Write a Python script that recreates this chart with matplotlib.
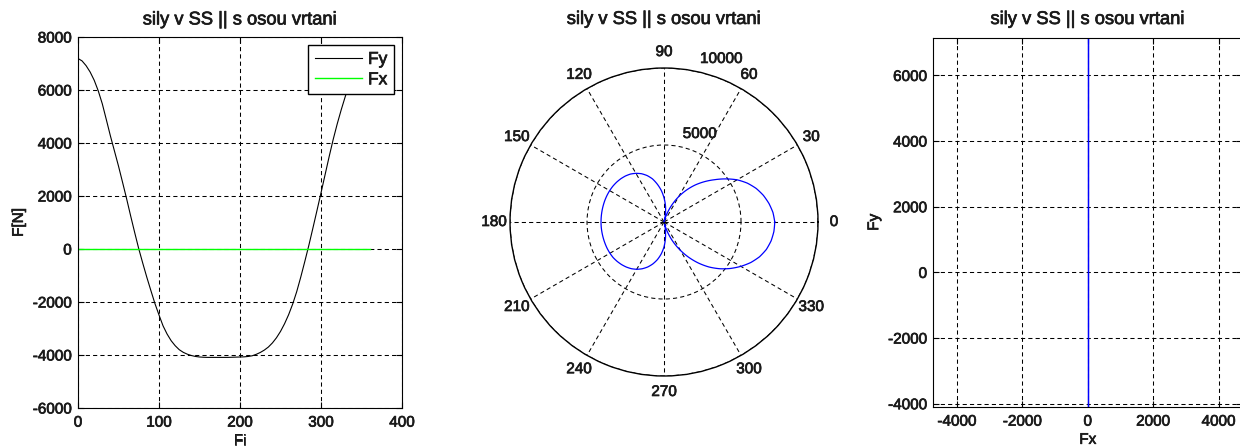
import numpy as np
import matplotlib
matplotlib.use("Agg")
import matplotlib.pyplot as plt
import matplotlib.patheffects as pe
from matplotlib.text import Text

plt.rcParams["font.family"] = ["Liberation Sans", "DejaVu Sans"]
plt.rcParams["font.size"] = 11
plt.rcParams["axes.unicode_minus"] = False

# crank angle [deg]
Fi = [0, 5, 10, 15, 20, 25, 30, 35, 40, 45, 50, 55, 60, 65, 70, 75, 80, 85,
      90, 95, 100, 105, 110, 115, 120, 125, 130, 135, 140, 145, 150, 155, 160,
      165, 170, 175, 180, 185, 190, 195, 200, 205, 210, 215, 220, 225, 230,
      235, 240, 245, 250, 255, 260, 265, 270, 275, 280, 285, 290, 295, 300,
      305, 310, 315, 320, 325, 330, 335, 340, 345, 350, 355, 360]

# force perpendicular to the bore axis [N]
Fy = [7190, 7100, 6920, 6680, 6370, 5970, 5480, 4880, 4270, 3700, 3130, 2520,
      1900, 1250, 620, 10, -540, -1070, -1570, -2060, -2490, -2900, -3210,
      -3460, -3650, -3800, -3900, -3970, -4020, -4055, -4075, -4085, -4090,
      -4090, -4090, -4090, -4090, -4090, -4085, -4080, -4075, -4070, -4055,
      -4030, -3975, -3905, -3815, -3700, -3545, -3350, -3110, -2820, -2480,
      -2080, -1610, -1060, -470, 140, 790, 1450, 2120, 2800, 3480, 4130, 4720,
      5260, 5760, 6220, 6600, 6880, 7060, 7160, 7190]

# force along the bore axis [N]
Fx = [0, 0, 0, 0, 0, 0, 0, 0, 0, 0, 0, 0, 0, 0, 0, 0, 0, 0, 0, 0, 0, 0, 0, 0,
      0, 0, 0, 0, 0, 0, 0, 0, 0, 0, 0, 0, 0, 0, 0, 0, 0, 0, 0, 0, 0, 0, 0, 0,
      0, 0, 0, 0, 0, 0, 0, 0, 0, 0, 0, 0, 0, 0, 0, 0, 0, 0, 0, 0, 0, 0, 0, 0,
      0]

title = "sily v SS || s osou vrtani"
grid_kw = dict(color="k", linestyle=(0, (4, 3)), linewidth=0.75)
tick_kw = dict(direction="in", length=4, width=0.8, top=True, right=True)

fig = plt.figure(figsize=(12.4, 4.48), dpi=100)

# forces against crank angle
ax1 = fig.add_axes([0.0629, 0.0893, 0.2613, 0.828])
ax1.plot(Fi, Fy, color="k", lw=0.8, label="Fy")
ax1.plot(Fi, Fx, color="#00ff00", lw=1.0, label="Fx")
ax1.set_xlim(0, 400)
ax1.set_ylim(-6000, 8000)
ax1.set_xticks(range(0, 401, 100))
ax1.set_yticks(range(-6000, 8001, 2000))
ax1.grid(True, **grid_kw)
ax1.tick_params(**tick_kw)
ax1.tick_params(axis="y", pad=4.5)
ax1.tick_params(axis="x", pad=5.5)
ax1.set_xlabel("Fi", labelpad=3)
ax1.set_ylabel("F[N]", labelpad=5)
ax1.set_title(title, y=1.034, pad=0)
leg = ax1.legend(loc="upper right", fontsize=12.5, fancybox=False,
                 edgecolor="k", framealpha=1, handlelength=2.7,
                 handletextpad=0.35, labelspacing=0.3, borderaxespad=0.45)
leg.get_frame().set_linewidth(1.0)

# magnitude of the force in polar form
ax2 = fig.add_axes([0.4113, 0.1607, 0.2484, 0.6875], projection="polar")
line, = ax2.plot(np.deg2rad(Fi), np.abs(Fy), color="#0000ff", lw=0.9)
line.get_path()._interpolation_steps = 8  # draw segments as arcs, not chords
ax2.set_ylim(0, 10000)
angles = list(range(0, 360, 30))
ax2.set_thetagrids(angles, labels=[str(a) for a in angles])
rings = [5000, 10000]
ax2.set_rgrids(rings, labels=["", ""])
ax2.grid(True, **grid_kw)
ax2.tick_params(axis="x", pad=4.5, length=0)
ax2.spines["polar"].set_linewidth(1.0)
for r in rings:
    ax2.text(np.deg2rad(77), r + 400, str(r), ha="left", va="bottom")
ax2.set_title(title, y=1.143, pad=0)

# Fy against Fx
ax3 = fig.add_axes([0.7527, 0.0915, 0.2490, 0.8244])
ax3.plot(Fx, Fy, color="#0000ff", lw=0.9)
ax3.set_xlim(-4720, 4720)
ax3.set_ylim(-4100, 7150)
ax3.set_xticks(range(-4000, 4001, 2000))
ax3.set_yticks(range(-4000, 6001, 2000))
ax3.grid(True, **grid_kw)
ax3.tick_params(**tick_kw)
ax3.tick_params(axis="y", pad=4.5)
ax3.tick_params(axis="x", pad=5.5)
ax3.set_xlabel("Fx", labelpad=3)
ax3.set_ylabel("Fy", labelpad=5)
ax3.set_title(title, y=1.037, pad=0)

# slightly heavier glyphs for all labels
for t in fig.findobj(Text):
    t.set_color("#1a1a1a")
    t.set_path_effects([pe.withStroke(linewidth=0.5, foreground="#1a1a1a")])

fig.savefig("out.png", dpi=100)
